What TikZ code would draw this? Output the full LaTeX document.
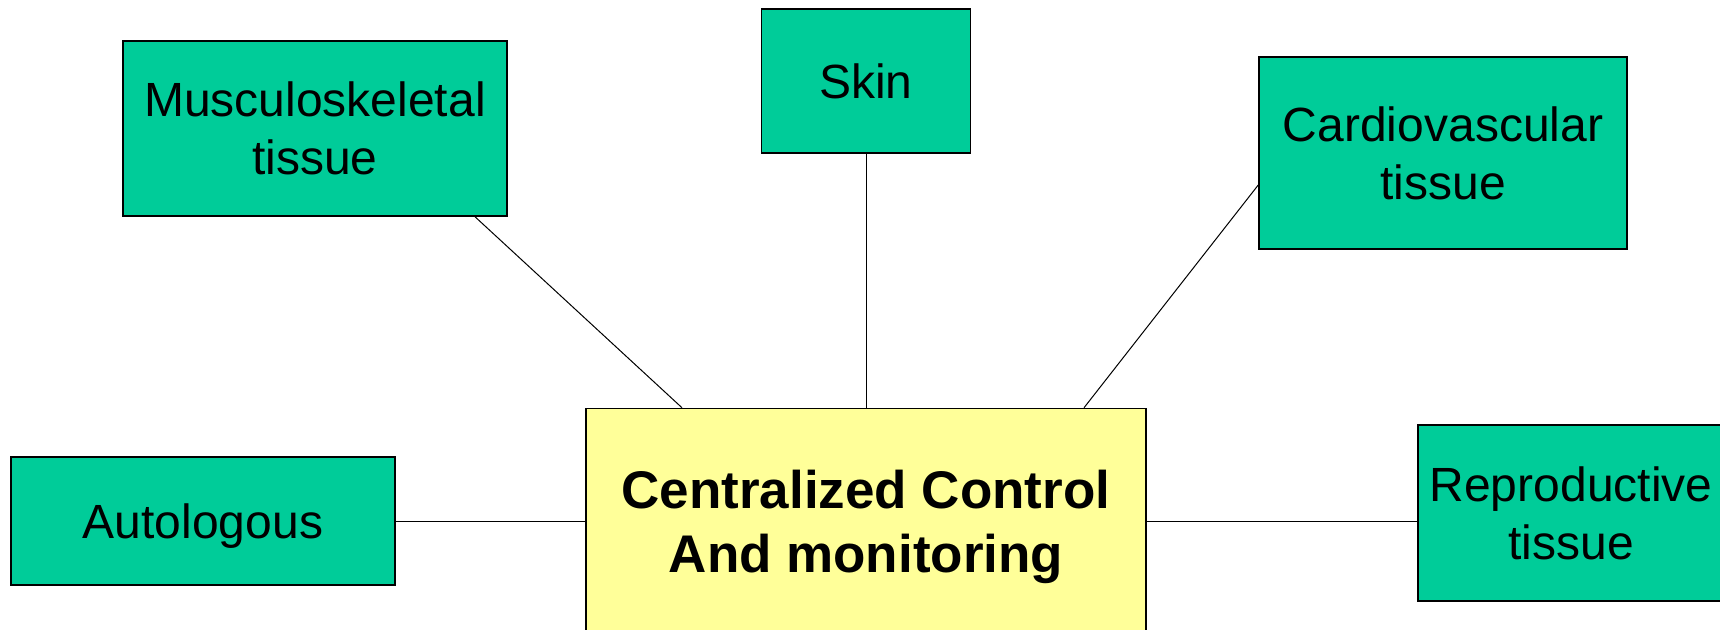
\documentclass[tikz,border=0pt]{standalone}
\usepackage{fontspec}
\setmainfont{Liberation Sans}
\usetikzlibrary{calc}
\definecolor{boxgreen}{RGB}{0,204,153}
\definecolor{boxyellow}{RGB}{255,255,153}
\begin{document}
\begin{tikzpicture}[x=1pt,y=-1pt,
  tissuebox/.style={draw=black, line width=1.5pt, fill=boxgreen, rectangle, inner sep=0pt,
    align=center, text depth=0pt, font=\fontsize{48}{58}\selectfont},
  centerbox/.style={draw=black, line width=1.5pt, fill=boxyellow, rectangle, inner sep=0pt,
    align=center, text depth=0pt, font=\bfseries\fontsize{53}{64}\selectfont},
  link/.style={draw=black, line width=1pt}]
\useasboundingbox (0,0) rectangle (1720,629);
\clip (0,0) rectangle (1720,629);
\fill[white] (0,0) rectangle (1720,629);
\node[tissuebox, minimum width=384pt, minimum height=175pt] (musc) at (315,128.5) {Musculoskeletal\\tissue};
\node[tissuebox, minimum width=209pt, minimum height=144pt] (skin) at (866,81) {Skin};
\node[tissuebox, minimum width=368pt, minimum height=192pt] (cardio) at (1443,153) {Cardiovascular\\tissue};
\node[tissuebox, minimum width=384pt, minimum height=128pt] (auto) at (203,521) {Autologous};
\node[tissuebox, minimum width=306pt, minimum height=176pt] (repro) at (1571,513) {Reproductive\\tissue};
\node[centerbox, minimum width=560pt, minimum height=226pt] (central) at (866,521.5) {Centralized Control\\And monitoring};
\draw[link] ([xshift=160pt]musc.south) -- ([xshift=-184pt]central.north);
\draw[link] (skin.south) -- (skin.south |- central.north);
\draw[link] ([yshift=-32pt]cardio.west) -- ([xshift=218pt]central.north);
\draw[link] (auto.east) -- (auto.east -| central.west);
\draw[link] (auto.east -| central.east) -- (auto.east -| repro.west);
\end{tikzpicture}
\end{document}
